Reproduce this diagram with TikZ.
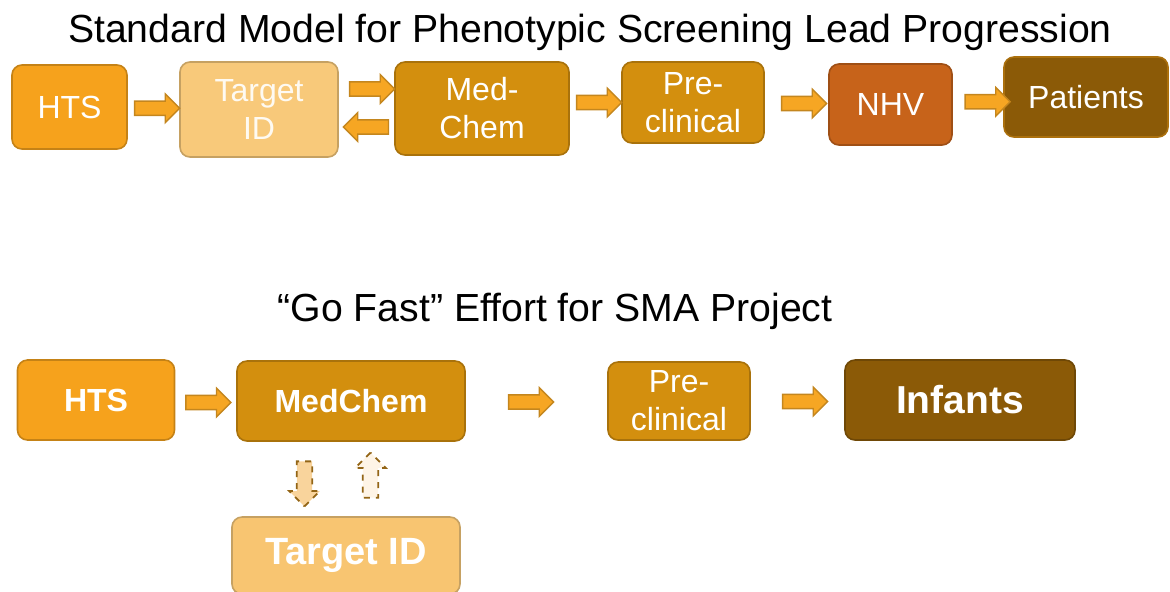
\documentclass[tikz,border=0pt]{standalone}
\usepackage{fontspec}
\setmainfont{Liberation Sans}
\usetikzlibrary{shapes.arrows,calc,positioning}

\definecolor{htsfill}{HTML}{F6A21C}
\definecolor{tidfill}{HTML}{F8C97A}
\definecolor{medfill}{HTML}{D38F0E}
\definecolor{nhvfill}{HTML}{C7631A}
\definecolor{patfill}{HTML}{8B5A07}
\definecolor{arrfill}{HTML}{F6A623}
\definecolor{arrline}{HTML}{C4861E}
\definecolor{softfill}{HTML}{F9D49C}

\begin{document}
\begin{tikzpicture}[x=0.5pt,y=-0.5pt,
    stage/.style={draw=#1!80!black, fill=#1, line width=0.8pt, rounded corners=5pt,
                  text=white, align=center, inner sep=0pt,
                  font=\fontsize{16}{19}\selectfont},
    flow/.style={single arrow, draw=arrline, fill=arrfill, line width=0.7pt,
                 minimum height=22.5pt, inner sep=3.2pt, single arrow head extend=3.6pt},
    maybe/.style={flow, dashed, draw=arrline!75!black, line width=0.9pt, inner sep=3.4pt,
                  single arrow head extend=3.8pt}]
    \useasboundingbox (0,0) rectangle (1170,591);
    \clip (0,0) rectangle (1170,591);

    % standard model
    \node (TitA) at (590,42) [anchor=base, font=\fontsize{19.6}{23}\selectfont]
        {Standard Model for Phenotypic Screening Lead Progression};
    \node (HtsA) at (69.5,107) [stage=htsfill, minimum width=57.5pt, minimum height=42pt] {HTS};
    \node (TidA) at (259,109.5) [stage=tidfill, minimum width=79pt, minimum height=47.5pt,
        text=white!90!tidfill] {Target\\ID};
    \node (MedA) at (482,108.5) [stage=medfill, minimum width=87pt, minimum height=46.5pt] {Med-\\Chem};
    \node (PreA) at (693,102.5) [stage=medfill, minimum width=71pt, minimum height=40.5pt] {Pre-\\clinical};
    \node (NhvA) at (890.5,104.5) [stage=nhvfill, minimum width=61.5pt, minimum height=40.5pt] {NHV};
    \node (PatA) at (1086,97) [stage=patfill, draw=patfill!70!htsfill, minimum width=82pt,
        minimum height=40pt] {Patients};

    \node (FlA) at ($(HtsA.east)!0.5!(TidA.west)$) [flow] {};
    \node (FlB) at ($(TidA.east)!0.5!(MedA.west)+(2,-20)$) [flow] {};
    \node (FlC) at ($(TidA.east)!0.5!(MedA.west)+(3,18)$) [flow, shape border rotate=180] {};
    \node (FlD) at ($(MedA.east)!0.5!(PreA.west)+(0,-3)$) [flow] {};
    \node (FlE) at ($(PreA.east)!0.5!(NhvA.west)+(4,0)$) [flow] {};
    \node (FlF) at ($(NhvA.east)!0.5!(PatA.west)+(6,1)$) [flow] {};

    % go fast
    \node (TitB) at (555,321) [anchor=base, font=\fontsize{19.6}{23}\selectfont]
        {“Go Fast” Effort for SMA Project};
    \node (HtsB) at (96,400) [stage=htsfill, minimum width=78.5pt, minimum height=40pt,
        font=\fontsize{16}{19}\selectfont\bfseries] {HTS};
    \node (MedB) at (351,401) [stage=medfill, minimum width=114pt, minimum height=40pt,
        font=\fontsize{16}{19}\selectfont\bfseries] {MedChem};
    \node (PreB) at (679,401) [stage=medfill, minimum width=71pt, minimum height=39pt] {Pre-\\clinical};
    \node (InfB) at (960,400) [stage=patfill, minimum width=115pt, minimum height=40pt,
        font=\fontsize{19.5}{23}\selectfont\bfseries] {Infants};
    \node (TidB) at (346,555.5) [stage=tidfill, fill=tidfill!90!htsfill, minimum width=114pt,
        minimum height=38.5pt, font=\fontsize{19}{23}\selectfont\bfseries] {Target ID};

    \node (FlG) at ($(HtsB.east)!0.5!(MedB.west)+(-1,2)$) [flow] {};
    \node (FlH) at ($(MedB.east)!0.5!(PreB.west)+(-9,1)$) [flow] {};
    \node (FlI) at ($(PreB.east)!0.5!(InfB.west)+(4,1)$) [flow] {};
    \node (DnA) at ($(MedB.south)!0.5!(TidB.north)+(-44,1)$) [maybe, fill=softfill,
        shape border rotate=270] {};
    \node (UpA) at ($(MedB.south)!0.5!(TidB.north)+(22,0)$) [maybe, fill=white!75!softfill,
        shape border rotate=90] {};
\end{tikzpicture}
\end{document}
